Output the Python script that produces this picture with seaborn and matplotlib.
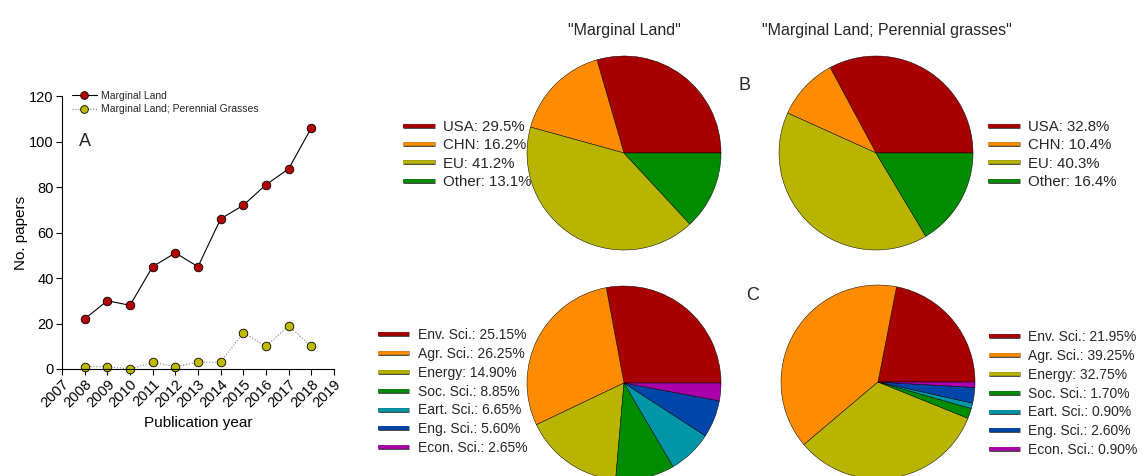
import matplotlib
matplotlib.use("Agg")
import matplotlib.pyplot as plt
import matplotlib.patheffects as pe
from matplotlib.lines import Line2D
import numpy as np
import pandas as pd
import seaborn as sns

# ---- data -------------------------------------------------------------
years = [2008, 2009, 2010, 2011, 2012, 2013, 2014, 2015, 2016, 2017, 2018]
marginal_land = [22, 30, 28, 45, 51, 45, 66, 72, 81, 88, 106]
marginal_perennial = [1, 1, 0, 3, 1, 3, 3, 16, 10, 19, 10]

region_labels = ["USA", "CHN", "EU", "Other"]
region_ml = [29.5, 16.2, 41.2, 13.1]
region_mlpg = [32.8, 10.4, 40.3, 16.4]

field_labels = ["Env. Sci.", "Agr. Sci.", "Energy", "Soc. Sci.",
                "Eart. Sci.", "Eng. Sci.", "Econ. Sci."]
field_ml = [25.15, 26.25, 14.90, 8.85, 6.65, 5.60, 2.65]
field_mlpg = [21.95, 39.25, 32.75, 1.70, 0.90, 2.60, 0.90]

year_ticks = list(range(2007, 2020))

# ---- style ------------------------------------------------------------
sns.set_theme(style="ticks")
plt.rcParams["font.family"] = ["Liberation Sans", "DejaVu Sans"]
plt.rcParams["axes.linewidth"] = 0.8

region_colors = ["#A80000", "#FF8C00", "#B8B400", "#008C00"]
field_colors = ["#A80000", "#FF8C00", "#B8B400", "#008C00",
                "#0096A8", "#0046A8", "#AA00AA"]

W, H = 1142, 476
fig = plt.figure(figsize=(W / 100, H / 100), dpi=100)


def px_axes(x0, y0, x1, y1):
    """Add axes from pixel box (top-left origin)."""
    return fig.add_axes([x0 / W, 1 - y1 / H, (x1 - x0) / W, (y1 - y0) / H])


# ---- panel A: line chart ---------------------------------------------
ax = px_axes(62, 96, 334, 369)
df = pd.DataFrame({"year": years, "ml": marginal_land, "mlpg": marginal_perennial})
sns.lineplot(data=df, x="year", y="ml", ax=ax, color="black", lw=0.8,
             marker="o", markersize=6.2, markerfacecolor="#B40000",
             markeredgecolor="black", markeredgewidth=0.6,
             label="Marginal Land")
sns.lineplot(data=df, x="year", y="mlpg", ax=ax, color="#808080", lw=0.8,
             linestyle=":", marker="o", markersize=6.2,
             markerfacecolor="#BDBA00", markeredgecolor="black",
             markeredgewidth=0.6, label="Marginal Land; Perennial Grasses")
ax.set_xlim(2007, 2019)
ax.set_ylim(0, 120)
ax.set_xticks(year_ticks)
ax.set_xticklabels([str(y) for y in year_ticks], rotation=45, ha="right",
                   rotation_mode="anchor")
ax.set_yticks(range(0, 121, 20))
ax.tick_params(axis="both", labelsize=10.5, direction="out", length=4,
               width=0.8, color="black", pad=2)
for lab in ax.get_xticklabels() + ax.get_yticklabels():
    lab.set_color("black")
ax.set_xlabel("Publication year", fontsize=11, color="black", labelpad=4)
ax.set_ylabel("No. papers", fontsize=11, color="black", labelpad=0.5)
for s in ["top", "right"]:
    ax.spines[s].set_visible(False)
for s in ["left", "bottom"]:
    ax.spines[s].set_color("black")
for ln in ax.lines:
    ln.set_clip_on(False)
leg = ax.legend(loc="upper left", bbox_to_anchor=(0.035, 1.02),
                frameon=False, fontsize=7.5, handlelength=2.4,
                handletextpad=0.4, labelspacing=0.38, borderaxespad=0,
                borderpad=0, markerscale=0.9)
ax.text(0.085, 0.835, "A", transform=ax.transAxes, fontsize=13,
        ha="center", va="center")

# ---- pies -------------------------------------------------------------
R = 97


def pie_at(cx, cy, values, colors):
    a = px_axes(cx - R, cy - R, cx + R, cy + R)
    a.pie(values, colors=colors, startangle=0, counterclock=True,
          radius=1.0, wedgeprops=dict(edgecolor="black", linewidth=0.35))
    a.set_xlim(-1.0, 1.0)
    a.set_ylim(-1.0, 1.0)
    a.set_aspect("equal")
    a.axis("off")
    return a


pie_at(624, 153, region_ml, region_colors)
pie_at(876, 153, region_mlpg, region_colors)
pie_at(624, 383, field_ml, field_colors)
pie_at(878, 382, field_mlpg, field_colors)


def swatch(c):
    return Line2D([0], [0], color=c, lw=2.6, solid_capstyle="butt",
                  path_effects=[pe.Stroke(linewidth=3.4, foreground="#333333"),
                                pe.Normal()])


def pie_legend(x, y, labels, values, colors, fmt, fs, spacing, hlen, hpad):
    handles = [swatch(c) for c in colors]
    texts = [f"{l}: {v:{fmt}}%" for l, v in zip(labels, values)]
    fig.legend(handles, texts, loc="upper left",
               bbox_to_anchor=(x / W, 1 - y / H), frameon=False,
               fontsize=fs, handlelength=hlen, handletextpad=hpad,
               labelspacing=spacing, borderpad=0, borderaxespad=0)


pie_legend(403, 120, region_labels, region_ml, region_colors, ".1f",
           10.8, 0.29, 2.13, 0.53)
pie_legend(988, 120, region_labels, region_mlpg, region_colors, ".1f",
           10.8, 0.29, 2.13, 0.53)
pie_legend(378, 328, field_labels, field_ml, field_colors, ".2f",
           10.0, 0.35, 2.23, 0.62)
pie_legend(989, 330, field_labels, field_mlpg, field_colors, ".2f",
           10.0, 0.35, 2.23, 0.55)

# ---- titles and panel letters ----------------------------------------
fig.text(624 / W, 1 - 30 / H, '"Marginal Land"', fontsize=11.5,
         ha="center", va="center")
fig.text(887 / W, 1 - 30 / H, '"Marginal Land; Perennial grasses"',
         fontsize=11.5, ha="center", va="center")
fig.text(745 / W, 1 - 86 / H, "B", fontsize=13, ha="center", va="center")
fig.text(753 / W, 1 - 296 / H, "C", fontsize=13, ha="center", va="center")

fig.savefig("out.png", dpi=100, facecolor="white")
